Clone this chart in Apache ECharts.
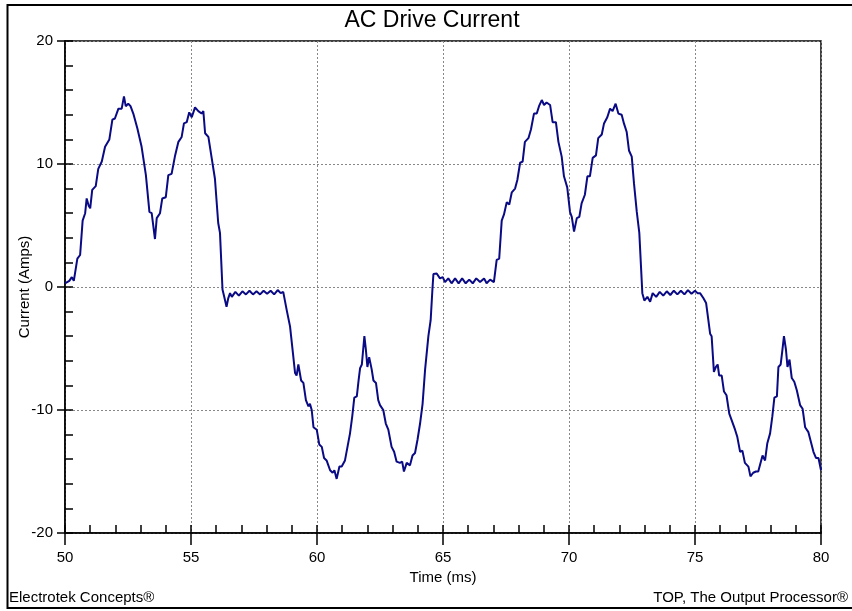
<!DOCTYPE html>
<html>
<head>
<meta charset="utf-8">
<title>AC Drive Current</title>
<script src="https://cdn.jsdelivr.net/npm/echarts@6/dist/echarts.min.js"></script>
<style>
  html, body { margin: 0; padding: 0; background: #fff; }
  #main { width: 852px; height: 611px; }
</style>
</head>
<body>
<div id="main"></div>
<script>
// time axis (ms) and current (A)
var timeMs = [
  50.0, 50.07, 50.17, 50.27, 50.35, 50.42, 50.49, 50.6, 50.7, 50.8, 50.86, 50.94, 51.0, 51.08, 51.22, 51.32, 51.46, 51.59, 51.76, 51.88,
  51.98, 52.12, 52.25, 52.34, 52.41, 52.51, 52.6, 52.71, 52.87, 53.04, 53.21, 53.35, 53.44, 53.57, 53.64, 53.77, 53.86, 54.0, 54.1, 54.23,
  54.37, 54.5, 54.63, 54.72, 54.83, 54.93, 55.03, 55.16, 55.29, 55.42, 55.49, 55.56, 55.69, 55.82, 55.95, 56.08, 56.15, 56.25, 56.33, 56.41,
  56.48, 56.55, 56.62, 56.68, 56.76, 56.9, 57.04, 57.18, 57.32, 57.46, 57.6, 57.74, 57.88, 58.02, 58.16, 58.3, 58.44, 58.56, 58.66, 58.8,
  58.93, 59.03, 59.13, 59.19, 59.26, 59.37, 59.46, 59.56, 59.66, 59.72, 59.79, 59.86, 59.99, 60.09, 60.19, 60.28, 60.38, 60.52, 60.62, 60.69,
  60.78, 60.89, 60.98, 61.11, 61.21, 61.31, 61.4, 61.48, 61.58, 61.65, 61.71, 61.78, 61.88, 61.94, 62.0, 62.07, 62.17, 62.24, 62.34, 62.43,
  62.5, 62.63, 62.73, 62.83, 62.96, 63.06, 63.16, 63.29, 63.38, 63.45, 63.56, 63.69, 63.79, 63.89, 63.99, 64.09, 64.19, 64.29, 64.42, 64.51,
  64.58, 64.62, 64.75, 64.88, 64.99, 65.08, 65.21, 65.34, 65.48, 65.62, 65.76, 65.9, 66.04, 66.18, 66.32, 66.47, 66.63, 66.73, 66.87, 67.02,
  67.13, 67.23, 67.33, 67.42, 67.53, 67.63, 67.73, 67.86, 67.95, 68.06, 68.16, 68.25, 68.39, 68.49, 68.61, 68.72, 68.81, 68.92, 69.01, 69.11,
  69.25, 69.35, 69.48, 69.58, 69.71, 69.8, 69.93, 70.04, 70.11, 70.2, 70.31, 70.41, 70.5, 70.63, 70.73, 70.83, 70.94, 71.07, 71.16, 71.3,
  71.39, 71.52, 71.63, 71.73, 71.85, 71.96, 72.09, 72.18, 72.29, 72.38, 72.49, 72.58, 72.69, 72.79, 72.91, 72.99, 73.11, 73.22, 73.32, 73.46,
  73.6, 73.74, 73.88, 74.02, 74.16, 74.3, 74.44, 74.58, 74.72, 74.86, 75.0, 75.1, 75.2, 75.33, 75.44, 75.53, 75.6, 75.66, 75.75, 75.83,
  75.9, 75.96, 76.06, 76.15, 76.25, 76.36, 76.45, 76.59, 76.68, 76.79, 76.88, 76.98, 77.12, 77.2, 77.31, 77.42, 77.51, 77.6, 77.68, 77.78,
  77.87, 77.98, 78.07, 78.15, 78.25, 78.31, 78.4, 78.47, 78.53, 78.61, 78.67, 78.75, 78.84, 78.94, 79.04, 79.17, 79.27, 79.37, 79.5, 79.6,
  79.7, 79.8, 79.9, 80.0
];
var currentA = [
  0.3, 0.3, 0.5, 0.8, 0.5, 0.5, 2.3, 2.6, 5.4, 6.0, 7.2, 6.6, 6.4, 7.9, 8.2, 9.6, 10.2, 11.4, 12.0, 13.6,
  13.7, 14.5, 14.5, 15.5, 14.7, 14.9, 14.7, 14.1, 12.9, 11.4, 9.1, 6.1, 6.0, 3.9, 5.6, 6.0, 7.2, 7.3, 9.1, 9.2,
  10.7, 11.8, 12.2, 13.3, 13.4, 14.2, 13.8, 14.6, 14.3, 14.1, 14.3, 12.5, 12.2, 10.5, 8.8, 5.2, 4.4, -0.2, -0.9, -1.6,
  -0.9, -0.5, -0.8, -0.8, -0.4, -0.7, -0.35, -0.6, -0.3, -0.6, -0.35, -0.6, -0.3, -0.55, -0.3, -0.6, -0.25, -0.5, -0.4, -1.9,
  -3.2, -5.1, -7.0, -7.2, -6.3, -7.6, -7.8, -9.2, -9.7, -9.5, -10.0, -11.4, -11.6, -12.8, -13.0, -13.9, -14.1, -14.9, -15.1, -14.9,
  -15.6, -14.6, -14.6, -14.1, -13.0, -11.9, -10.5, -9.0, -8.9, -7.6, -6.6, -6.3, -4.0, -5.1, -6.5, -5.7, -6.7, -7.6, -7.8, -9.2,
  -9.6, -10.0, -11.1, -11.6, -13.0, -13.4, -14.2, -14.3, -14.2, -15.0, -14.3, -14.5, -13.7, -13.5, -12.4, -11.1, -9.5, -6.7, -4.0, -2.7,
  -0.2, 1.06, 1.1, 0.7, 0.8, 0.4, 0.7, 0.3, 0.7, 0.3, 0.7, 0.3, 0.6, 0.3, 0.7, 0.4, 0.7, 0.3, 0.6, 0.4,
  2.2, 2.3, 5.4, 5.9, 6.9, 6.7, 7.7, 8.0, 8.7, 10.1, 10.2, 11.8, 12.1, 12.8, 14.1, 14.1, 14.7, 15.2, 14.8, 15.0,
  14.8, 13.4, 13.4, 11.8, 10.6, 9.0, 8.1, 6.1, 5.7, 4.5, 5.6, 5.7, 6.8, 7.5, 9.0, 9.0, 10.5, 10.7, 12.1, 12.4,
  13.3, 13.8, 14.5, 14.3, 14.9, 14.1, 14.0, 13.3, 12.6, 11.1, 10.6, 8.4, 6.1, 4.4, -0.5, -1.1, -0.8, -1.2, -0.5, -0.8,
  -0.4, -0.7, -0.35, -0.65, -0.3, -0.6, -0.3, -0.6, -0.25, -0.55, -0.3, -0.5, -0.5, -0.9, -1.3, -2.7, -3.8, -4.0, -6.9, -6.5,
  -6.3, -7.2, -7.2, -8.5, -8.8, -10.3, -10.8, -11.6, -12.2, -13.4, -13.3, -14.3, -14.6, -15.4, -15.1, -15.0, -15.0, -14.3, -13.7, -14.1,
  -12.7, -11.9, -10.5, -9.0, -8.9, -6.5, -6.3, -5.1, -4.0, -5.1, -6.5, -5.9, -7.4, -7.7, -8.4, -9.6, -9.9, -11.4, -11.8, -12.6,
  -13.4, -13.9, -13.9, -14.9
];
var xTicks = [50, 55, 60, 65, 70, 75, 80];
var yTicks = [-20, -10, 0, 10, 20];

var font = "'Liberation Sans', Arial, sans-serif";
var points = timeMs.map(function (t, i) { return [t, currentA[i]]; });

var chart = echarts.init(document.getElementById('main'), null, { renderer: 'canvas' });
chart.setOption({
  animation: false,
  backgroundColor: '#fff',
  grid: {
    left: 65, right: 31, top: 41, bottom: 78,
    show: true, borderColor: '#000', borderWidth: 1.5, backgroundColor: 'transparent'
  },
  graphic: [
    // outer frame (right edge is cut off in the reference)
    { type: 'rect', shape: { x: 7.5, y: 5, width: 900, height: 603 },
      style: { fill: null, stroke: '#000', lineWidth: 2 }, silent: true },
    { type: 'text', x: 432, y: 9,
      style: { text: 'AC Drive Current', font: '23px ' + font, fill: '#000', textAlign: 'center' } },
    { type: 'text', x: 9, y: 590,
      style: { text: 'Electrotek Concepts®', font: '15px ' + font, fill: '#000' } },
    { type: 'text', x: 848, y: 590,
      style: { text: 'TOP, The Output Processor®', font: '15px ' + font, fill: '#000', textAlign: 'right' } }
  ],
  xAxis: [
    {
      type: 'value', min: xTicks[0], max: xTicks[xTicks.length - 1], interval: 5,
      position: 'bottom',
      name: 'Time (ms)', nameLocation: 'middle', nameGap: 36,
      nameTextStyle: { fontFamily: font, fontSize: 15, color: '#000' },
      axisLine: { show: true, onZero: false, lineStyle: { color: '#000', width: 1.5 } },
      axisTick: { show: true, inside: false, length: 12, lineStyle: { color: '#000', width: 1.5 } },
      axisLabel: { margin: 17, fontFamily: font, fontSize: 15, color: '#000' },
      splitLine: { show: true, lineStyle: { color: '#888', width: 1, type: [2, 2] } }
    },
    {
      type: 'value', min: xTicks[0], max: xTicks[xTicks.length - 1], interval: 1,
      position: 'bottom',
      axisLine: { show: false, onZero: false },
      axisTick: { show: true, inside: true, length: 8, lineStyle: { color: '#000', width: 1.5 } },
      axisLabel: { show: false },
      splitLine: { show: false }
    }
  ],
  yAxis: [
    {
      type: 'value', min: yTicks[0], max: yTicks[yTicks.length - 1], interval: 10,
      position: 'left',
      name: 'Current (Amps)', nameLocation: 'middle', nameGap: 33, nameMoveOverlap: false,
      nameTextStyle: { fontFamily: font, fontSize: 15, color: '#000' },
      axisLine: { show: true, onZero: false, lineStyle: { color: '#000', width: 1.5 } },
      axisTick: { show: true, inside: false, length: 8, lineStyle: { color: '#000', width: 1.5 } },
      axisLabel: { margin: 12, fontFamily: font, fontSize: 15, color: '#000' },
      splitLine: { show: true, lineStyle: { color: '#888', width: 1, type: [2, 2] } }
    },
    {
      type: 'value', min: yTicks[0], max: yTicks[yTicks.length - 1], interval: 2,
      position: 'left',
      axisLine: { show: false, onZero: false },
      axisTick: { show: true, inside: true, length: 8, lineStyle: { color: '#000', width: 1.5 } },
      axisLabel: { show: false },
      splitLine: { show: false }
    }
  ],
  series: [
    {
      name: 'Current',
      type: 'line',
      xAxisIndex: 0,
      yAxisIndex: 0,
      data: points,
      showSymbol: false,
      smooth: false,
      lineStyle: { color: '#0a0a85', width: 2 }
    }
  ]
});
</script>
</body>
</html>
